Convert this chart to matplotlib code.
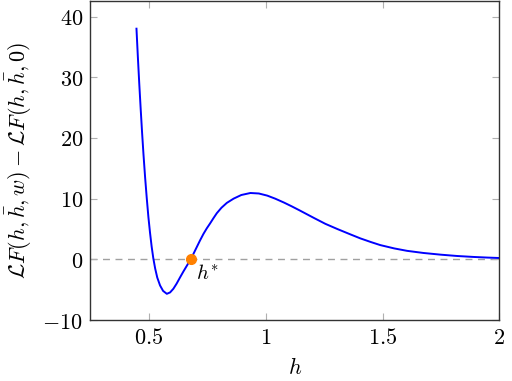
import matplotlib
matplotlib.use("Agg")
import matplotlib.pyplot as plt
from matplotlib.ticker import FuncFormatter, FixedLocator

plt.rcParams['mathtext.fontset'] = 'cm'
plt.rcParams['font.family'] = ['DejaVu Serif']

h = [0.446, 0.452, 0.458, 0.464, 0.470, 0.476, 0.483, 0.490, 0.497, 0.504,
     0.511, 0.518, 0.526, 0.535, 0.547, 0.560, 0.576, 0.590, 0.604, 0.618,
     0.633, 0.647, 0.661, 0.678, 0.690, 0.704, 0.718, 0.733, 0.747, 0.761,
     0.776, 0.790, 0.810, 0.833, 0.862, 0.895, 0.934, 0.970, 1.006, 1.040,
     1.078, 1.110, 1.143, 1.175, 1.207, 1.255, 1.306, 1.363, 1.405, 1.450,
     1.490, 1.550, 1.605, 1.675, 1.749, 1.820, 1.892, 1.950, 2.000]
F = [38.0, 33.3, 28.9, 24.8, 20.9, 17.3, 13.5, 10.1, 7.0, 4.4,
     2.1, 0.2, -1.5, -3.0, -4.3, -5.2, -5.68, -5.45, -4.85, -4.0,
     -2.95, -2.0, -1.1, 0.0, 0.9, 2.0, 3.1, 4.2, 5.1, 5.9,
     6.8, 7.6, 8.5, 9.3, 10.0, 10.6, 10.93, 10.85, 10.5, 10.0,
     9.35, 8.75, 8.1, 7.45, 6.8, 5.85, 5.0, 4.1, 3.45, 2.85,
     2.35, 1.8, 1.4, 1.05, 0.77, 0.55, 0.39, 0.29, 0.22]

h_star = 0.678
F_star = 0.0

xticks = [0.5, 1.0, 1.5, 2.0]
yticks = [-10, 0, 10, 20, 30, 40]

fig = plt.figure(figsize=(5.12, 3.81), dpi=100)
ax = fig.add_axes([0.1758, 0.160, 0.7994, 0.838])

ax.axhline(0, color='#a0a0a0', lw=1.0, ls=(0, (5, 4)), zorder=1)
ax.plot(h, F, color='#0000ff', lw=1.4, zorder=2)
ax.plot([h_star], [F_star], 'o', color='#ff8000', ms=7, zorder=3)
ax.annotate(r'$h^{*}$', xy=(h_star, F_star), xytext=(4, -3),
            textcoords='offset points', ha='left', va='top', fontsize=15)

ax.set_xlim(0.247, 2.0)
ax.set_ylim(-10, 42.6)
ax.xaxis.set_major_locator(FixedLocator(xticks))
ax.yaxis.set_major_locator(FixedLocator(yticks))
ax.xaxis.set_major_formatter(FuncFormatter(lambda v, p: r'$%g$' % v))
ax.yaxis.set_major_formatter(FuncFormatter(lambda v, p: r'$%g$' % v))
ax.tick_params(direction='in', length=5, width=0.8, color='#b0b0b0',
               top=True, right=True, labelsize=16, pad=5)
for s in ax.spines.values():
    s.set_color('#333333')
    s.set_linewidth(1.0)

ax.set_xlabel(r'$h$', fontsize=16, labelpad=6)
ax.set_ylabel(r'$\mathcal{L}F(h,\bar{h},w)-\mathcal{L}F(h,\bar{h},0)$', fontsize=16, labelpad=6)

fig.savefig('out.png', dpi=100)
